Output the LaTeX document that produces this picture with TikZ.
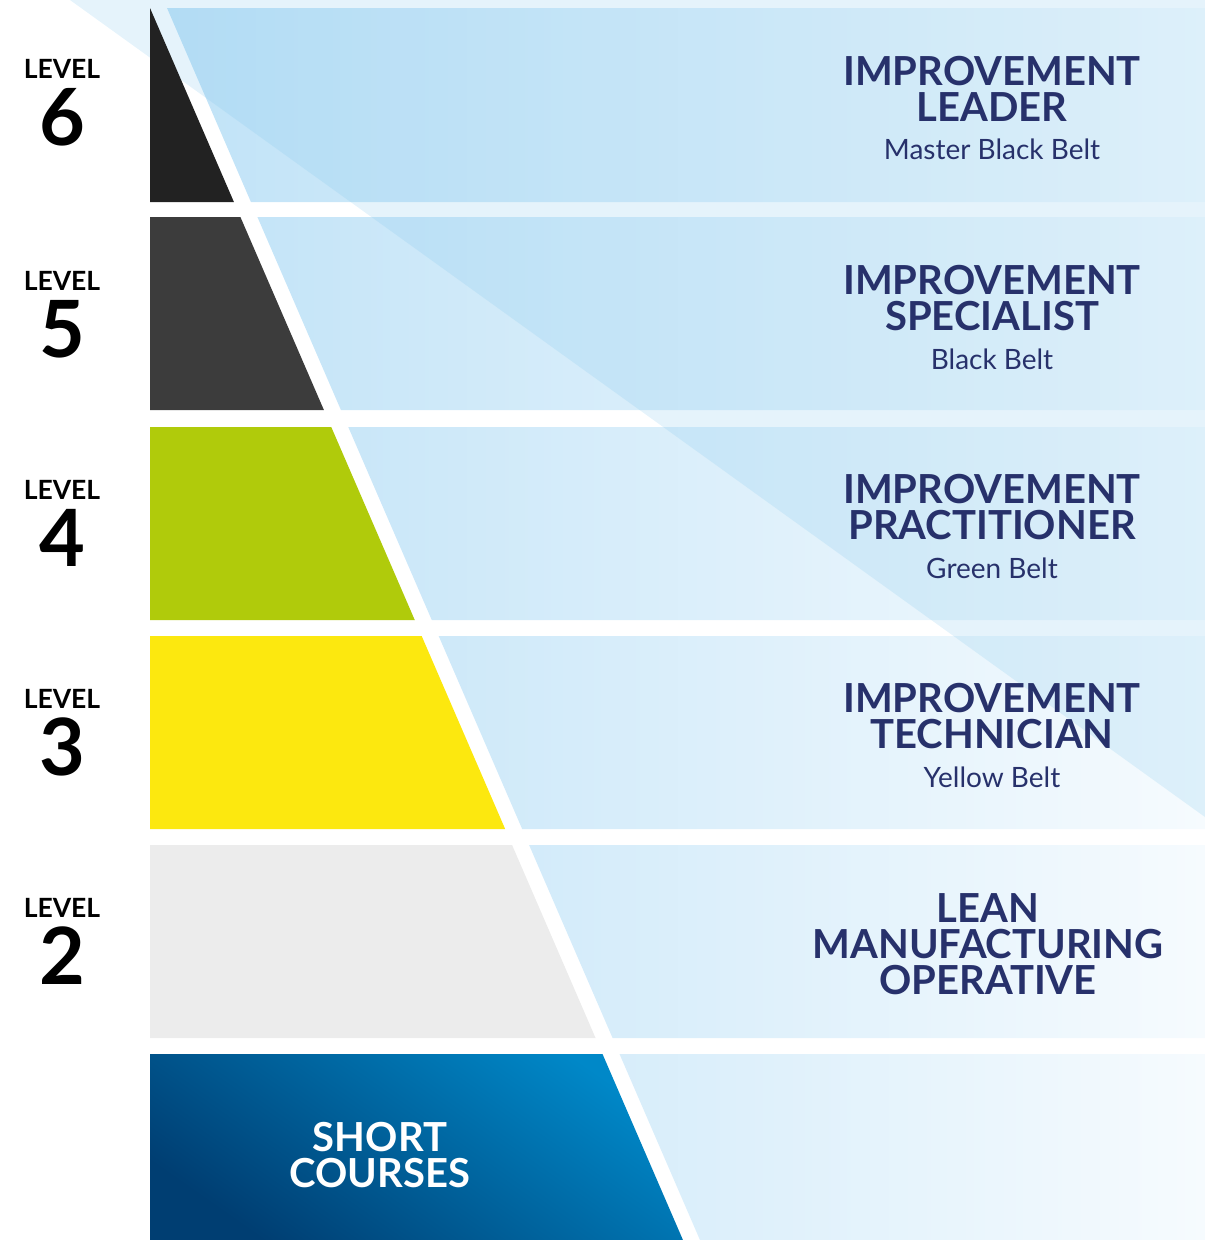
\documentclass[tikz,border=0pt]{standalone}
\usepackage{fontspec}
\setmainfont{Lato}
\usetikzlibrary{positioning}

\definecolor{navy}{HTML}{27316B}
\definecolor{bandL}{HTML}{BFE2F7}
\definecolor{bandR}{HTML}{F6FBFE}
\definecolor{sky}{HTML}{7CC4EC}
\definecolor{belt6}{HTML}{222222}
\definecolor{belt5}{HTML}{3C3C3C}
\definecolor{belt4}{HTML}{B0CB0B}
\definecolor{belt3}{HTML}{FCE80F}
\definecolor{belt2}{HTML}{ECECEC}
\definecolor{courseT}{HTML}{0088C8}
\definecolor{courseB}{HTML}{003E72}

\begin{document}
\begin{tikzpicture}[x=1pt,y=-1pt,
  every node/.style={inner sep=0pt,outer sep=0pt},
  title/.style={font=\fontsize{40}{40}\selectfont\bfseries,text=navy,anchor=base},
  beltname/.style={font=\fontsize{28}{28}\selectfont,text=navy},
  lvl/.style={font=\fontsize{26.5}{26.5}\selectfont\bfseries,anchor=base},
  num/.style={font=\fontsize{79}{79}\selectfont\bfseries}]

\useasboundingbox (0,0) rectangle (1205,1240);

% light bands
\begin{scope}
  \clip \foreach \t/\b in {8/202,217/410,427/620,636/829,845/1038,1054/1240}
    {({167+(\t-8)*0.4326},\t) -- (1205,\t) -- (1205,\b) -- ({167+(\b-8)*0.4326},\b) -- cycle};
  \shade[left color=bandL,right color=bandR] (150,0) rectangle (1205,1240);
\end{scope}

% diagonal overlay
\fill[sky,opacity=0.2] (70,0) -- (1205,0) -- (1205,817) -- cycle;

% belt shapes
\foreach \t/\b/\c in {8/202/belt6,217/410/belt5,427/620/belt4,636/829/belt3,845/1038/belt2}
  \fill[\c] (150,\t) -- ({150+(\t-8)*0.4326},\t) -- ({150+(\b-8)*0.4326},\b) -- (150,\b) -- cycle;
\shade[top color=courseT,bottom color=courseB,shading angle=-35]
  (150,1054) -- ({150+1046*0.4326},1054) -- ({150+1232*0.4326},1240) -- (150,1240) -- cycle;

% levels
\foreach \n/\y in {6/78,5/290,4/499,3/708,2/917}{
  \node[lvl] (lvl\n) at (62,\y) {LEVEL};
  \node[num,below=10pt of lvl\n] (num\n) {\n};
}

% titles
\foreach \n/\y/\name/\belt in {6/85/LEADER/Master Black Belt,5/294/SPECIALIST/Black Belt,
    4/503/PRACTITIONER/Green Belt,3/712/TECHNICIAN/Yellow Belt}{
  \node[title] (imp\n) at (992,\y) {IMPROVEMENT};
  \node[title,below=7pt of imp\n] (name\n) {\name};
  \node[beltname,below=18pt of name\n] (belt\n) {\belt};
}

\node[title] (lean) at (988,922) {LEAN};
\node[title,below=7pt of lean] (manuf) {MANUFACTURING};
\node[title,below=7pt of manuf] (oper) {OPERATIVE};

\node[title,text=white] (short) at (380,1151) {SHORT};
\node[title,text=white,below=7pt of short] (courses) {COURSES};
\end{tikzpicture}
\end{document}
